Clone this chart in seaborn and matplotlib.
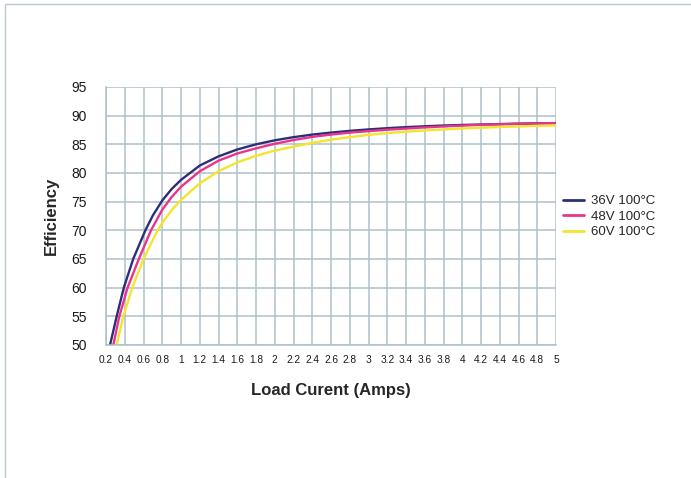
import matplotlib
matplotlib.use("Agg")
import matplotlib.pyplot as plt
import matplotlib.patches as mpatches
import seaborn as sns
import pandas as pd

# ---- data ----
x_36 = [0.243, 0.314, 0.39, 0.49, 0.62, 0.70, 0.8, 0.9, 1.0, 1.2, 1.4, 1.6, 1.8, 2.0, 2.2, 2.4, 2.6,
        2.8, 3.0, 3.2, 3.4, 3.6, 3.8, 4.0, 4.2, 4.4, 4.6, 4.8, 5.0]
y_36 = [50, 55, 60, 65, 70, 72.6, 75.2, 77.2, 78.8, 81.3, 82.9, 84.1, 85.0, 85.7, 86.25, 86.7, 87.05,
        87.35, 87.6, 87.82, 88.0, 88.15, 88.28, 88.38, 88.46, 88.53, 88.6, 88.65, 88.7]

x_48 = [0.278, 0.342, 0.43, 0.55, 0.68, 0.8, 0.9, 1.0, 1.2, 1.4, 1.6, 1.8, 2.0, 2.2, 2.4, 2.6,
        2.8, 3.0, 3.2, 3.4, 3.6, 3.8, 4.0, 4.2, 4.4, 4.6, 4.8, 5.0]
y_48 = [50, 55, 60, 65, 70, 73.6, 75.8, 77.6, 80.3, 82.15, 83.4, 84.3, 85.1, 85.75, 86.3, 86.7,
        87.05, 87.3, 87.55, 87.75, 87.95, 88.12, 88.27, 88.4, 88.5, 88.58, 88.65, 88.7]

x_60 = [0.314, 0.385, 0.48, 0.6, 0.75, 0.8, 0.9, 1.0, 1.2, 1.4, 1.6, 1.8, 2.0, 2.2, 2.4, 2.6,
        2.8, 3.0, 3.2, 3.4, 3.6, 3.8, 4.0, 4.2, 4.4, 4.6, 4.8, 5.0]
y_60 = [50, 55, 60, 65, 70, 71.3, 73.5, 75.3, 78.2, 80.3, 81.85, 83.0, 83.9, 84.6, 85.25, 85.8,
        86.25, 86.65, 86.95, 87.2, 87.42, 87.6, 87.77, 87.9, 88.02, 88.12, 88.22, 88.3]

series_names = ["36V 100°C", "48V 100°C", "60V 100°C"]
series_colors = ["#2b2f78", "#e8348c", "#f2e52e"]

x_ticks = [0.2, 0.4, 0.6, 0.8, 1.0, 1.2, 1.4, 1.6, 1.8, 2.0, 2.2, 2.4, 2.6, 2.8, 3.0,
           3.2, 3.4, 3.6, 3.8, 4.0, 4.2, 4.4, 4.6, 4.8, 5.0]
x_tick_labels = ["0.2", "0.4", "0.6", "0.8", "1", "1.2", "1.4", "1.6", "1.8", "2", "2.2", "2.4",
                 "2.6", "2.8", "3", "3.2", "3.4", "3.6", "3.8", "4", "4.2", "4.4", "4.6", "4.8", "5"]
y_ticks = [50, 55, 60, 65, 70, 75, 80, 85, 90, 95]

# ---- build long table ----
frames = []
for name, xs, ys in zip(series_names, [x_36, x_48, x_60], [y_36, y_48, y_60]):
    frames.append(pd.DataFrame({"Load": xs, "Efficiency": ys, "Series": name}))
df = pd.concat(frames, ignore_index=True)

sns.set_style("white")
plt.rcParams["font.family"] = ["Liberation Sans", "DejaVu Sans"]

grid_color = "#adc1ca"

fig = plt.figure(figsize=(6.91, 4.78), dpi=100)
ax = fig.add_axes([106 / 691, 1 - 345 / 478, 450 / 691, 258 / 478])

sns.lineplot(data=df, x="Load", y="Efficiency", hue="Series", hue_order=series_names,
             palette=series_colors, linewidth=1.7, ax=ax, sort=False, estimator=None,
             legend=True)
for line in ax.lines:
    line.set_solid_joinstyle("round")

ax.set_xlim(0.2, 5.0)
ax.set_ylim(50, 95)
ax.set_xticks(x_ticks)
ax.set_xticklabels(x_tick_labels, fontsize=7.3)
ax.set_yticks(y_ticks)
ax.set_yticklabels([str(v) for v in y_ticks], fontsize=10)

ax.grid(True, color=grid_color, linewidth=1.1)
ax.set_axisbelow(True)
for side in ["top", "right"]:
    ax.spines[side].set_visible(False)
for side in ["left", "bottom"]:
    ax.spines[side].set_color(grid_color)
    ax.spines[side].set_linewidth(1.1)
ax.tick_params(axis="both", direction="out", length=4, width=1.0, color=grid_color,
               labelcolor="#1a1a1a")
ax.tick_params(axis="x", pad=3)
ax.tick_params(axis="y", pad=10)

ax.set_xlabel("Load Curent (Amps)", fontsize=12, fontweight="bold", labelpad=13)
ax.set_ylabel("Efficiency", fontsize=12, fontweight="bold", labelpad=9)

leg = ax.legend(loc="upper left", bbox_to_anchor=(563 / 691, 1 - 195 / 478),
                bbox_transform=fig.transFigure, frameon=False, fontsize=9.5,
                handlelength=1.6, handletextpad=0.5, labelspacing=0.25, borderaxespad=0,
                borderpad=0)
for line in leg.get_lines():
    line.set_linewidth(2.0)

# outer frame (partially visible border)
frame = mpatches.Rectangle((5 / 691, -0.1), 1.2, 1.1 - 4 / 478, transform=fig.transFigure,
                           fill=False, edgecolor="#b9cad2", linewidth=1.0)
fig.patches.append(frame)

fig.savefig("out.png", dpi=100)
